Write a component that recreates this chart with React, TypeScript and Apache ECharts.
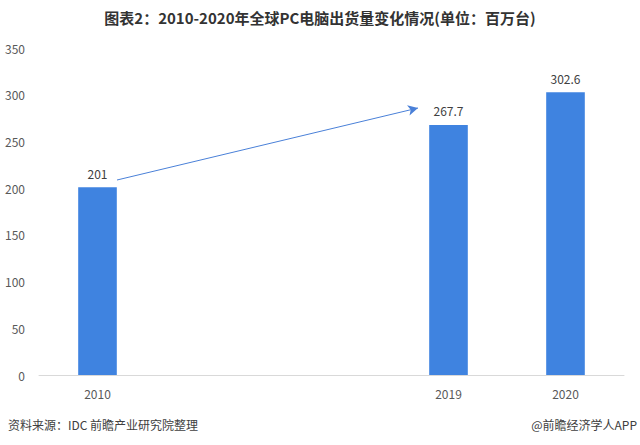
import React, { useEffect, useRef } from "react";
import * as echarts from "echarts";

const categories = ["2010", " ", "  ", "2019", "2020"];
const shipments = [201, null, null, 267.7, 302.6];
const yTicks = { min: 0, max: 350, interval: 50 };
const titleText = "图表2：2010-2020年全球PC电脑出货量变化情况(单位：百万台)";
const sourceText = "资料来源：IDC 前瞻产业研究院整理";
const brandText = "@前瞻经济学人APP";

export default function App() {
  const ref = useRef<HTMLDivElement>(null);
  useEffect(() => {
    if (!ref.current) return;
    const chart = echarts.init(ref.current, null, { renderer: "svg" });
    const font = "'Noto Sans CJK SC', 'Noto Sans', sans-serif";
    chart.setOption({
      animation: false,
      backgroundColor: "#ffffff",
      textStyle: { fontFamily: font },
      grid: { left: 39, right: 16, top: 48, bottom: 70, containLabel: false },
      xAxis: {
        type: "category",
        data: categories,
        axisLine: { show: true, lineStyle: { color: "#d9d9d9", width: 1 } },
        axisTick: { show: false },
        axisLabel: { color: "#595959", fontSize: 12, margin: 12, fontFamily: font },
      },
      yAxis: {
        type: "value",
        min: yTicks.min,
        max: yTicks.max,
        interval: yTicks.interval,
        axisLine: { show: false },
        axisTick: { show: false },
        splitLine: { show: false },
        axisLabel: { color: "#595959", fontSize: 12, margin: 14, fontFamily: font },
      },
      series: [
        {
          type: "bar",
          data: shipments,
          barWidth: "33%",
          itemStyle: { color: "#3f83e0" },
          label: {
            show: true,
            position: "top",
            distance: 8,
            color: "#404040",
            fontSize: 12,
            fontFamily: font,
          },
          markLine: {
            silent: true,
            symbol: ["none", "arrow"],
            symbolSize: [8, 10],
            label: { show: false },
            lineStyle: { color: "#4a80d8", width: 1, type: "solid" },
            data: [[{ x: 117, y: 180 }, { x: 418, y: 108 }]],
          },
        },
      ],
      graphic: [
        {
          type: "text",
          left: "center",
          top: 10,
          style: {
            text: titleText,
            fontSize: 15,
            fontWeight: "bold",
            fill: "#333333",
            fontFamily: font,
          },
        },
        {
          type: "text",
          left: 8,
          top: 418,
          style: { text: sourceText, fontSize: 12, fill: "#404040", fontFamily: font },
        },
        {
          type: "text",
          right: 3,
          top: 418,
          style: { text: brandText, fontSize: 12, fill: "#404040", fontFamily: font },
        },
      ],
    });
    return () => chart.dispose();
  }, []);
  return (
    <div
      ref={ref}
      style={{ position: "fixed", left: 0, top: 0, width: 640, height: 445 }}
    />
  );
}
